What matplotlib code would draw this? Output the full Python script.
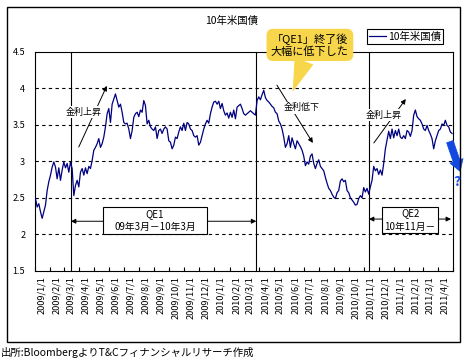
import numpy as np
import pandas as pd
import matplotlib
matplotlib.use('Agg')
import matplotlib.pyplot as plt
import matplotlib.dates as mdates
from matplotlib.patches import Rectangle, FancyArrowPatch

plt.rcParams['font.family'] = ['Noto Sans CJK JP', 'DejaVu Sans']

# 10年米国債 利回り(%)  2009/1 - 2011/4
ust_2009a = [2.49, 2.375, 2.42, 2.31, 2.22, 2.31, 2.40, 2.60, 2.72, 2.81,
             2.92, 2.99, 2.92, 2.76, 2.91, 2.74, 2.88, 2.99, 2.91, 2.97,
             2.85, 2.99, 2.90, 2.53, 2.67, 2.74, 2.65, 2.85, 2.90, 2.81,
             2.91, 2.83, 2.93, 2.90, 3.01, 3.15, 3.19, 3.24, 3.31, 3.19,
             3.24, 3.33, 3.47, 3.65, 3.72, 3.53, 3.78, 3.85, 3.92, 3.83,
             3.74, 3.78, 3.67, 3.53, 3.51, 3.52, 3.44, 3.31, 3.42, 3.60,
             3.65]
ust_2009b = [3.67, 3.61, 3.70, 3.67, 3.83, 3.76, 3.51, 3.56, 3.47, 3.44,
             3.42, 3.47, 3.31, 3.42, 3.44, 3.38, 3.44, 3.47, 3.44, 3.28,
             3.26, 3.17, 3.22, 3.33, 3.31, 3.40, 3.47, 3.42, 3.52, 3.42,
             3.53, 3.51, 3.44, 3.42, 3.35, 3.33, 3.35, 3.22, 3.26, 3.35,
             3.44, 3.51, 3.56, 3.52, 3.65, 3.74, 3.81, 3.82, 3.78, 3.82,
             3.72, 3.79, 3.69, 3.63, 3.66, 3.59, 3.67, 3.60, 3.70, 3.58,
             3.74, 3.76, 3.78, 3.72, 3.65, 3.63]
ust_2010a = [3.65, 3.67, 3.69, 3.67, 3.65, 3.63, 3.83, 3.88, 3.84, 3.91,
             3.97, 3.87, 3.83, 3.81, 3.78, 3.75, 3.73, 3.67, 3.65, 3.55,
             3.51, 3.44, 3.33, 3.19, 3.24, 3.35, 3.19, 3.32, 3.24, 3.17,
             3.28, 3.24, 3.20, 3.15, 3.07, 2.94, 2.99, 2.96, 3.07, 3.10,
             2.97, 2.90, 2.97, 3.02, 2.93, 2.90, 2.87, 2.78, 2.70, 2.63,
             2.60, 2.55, 2.51, 2.49, 2.57, 2.60, 2.73, 2.76, 2.72, 2.74,
             2.60, 2.57, 2.50]
ust_2010b = [2.47, 2.44, 2.40, 2.41, 2.49, 2.53, 2.50, 2.64, 2.58, 2.63,
             2.55, 2.65, 2.74, 2.93, 2.87, 2.90, 2.82, 2.88, 2.81, 2.97,
             3.17, 3.29, 3.41, 3.31, 3.44, 3.32, 3.42, 3.35, 3.44, 3.33,
             3.31, 3.35, 3.31, 3.42, 3.40, 3.34, 3.42, 3.63, 3.70, 3.61,
             3.58, 3.56, 3.51, 3.44, 3.42, 3.49, 3.42, 3.37, 3.31, 3.17,
             3.28, 3.35, 3.42, 3.44, 3.51, 3.49, 3.56, 3.49, 3.47, 3.40,
             3.38]

values = ust_2009a + ust_2009b + ust_2010a + ust_2010b
dates = pd.date_range('2009-01-02', '2011-04-29', periods=len(values))

qe_lines = ['2009-03-15', '2010-03-27', '2010-11-11']
months = pd.date_range('2009-01-01', '2011-05-01', freq='MS')
label_months = months[:-1]
ylabels = ['1.5', '2', '2.5', '3', '3.5', '4', '4.5']

def d(s):
    return mdates.date2num(pd.Timestamp(s))

W, H = 468, 362
fig = plt.figure(figsize=(W / 100, H / 100), dpi=100)
ax = fig.add_axes([35 / W, 1 - 271 / H, 418 / W, 219.5 / H])

line, = ax.plot(dates, values, color='#000080', lw=0.9, zorder=3, label='10年米国債')
ax.set_xlim(d('2009-01-01'), d('2011-05-01'))
ax.set_ylim(1.5, 4.5)
ax.set_yticks(np.arange(1.5, 4.51, 0.5))
ax.set_yticklabels(ylabels, fontsize=6.5)
ax.tick_params(axis='y', length=0, pad=7)
for v in [2, 2.5, 3, 3.5, 4]:
    ax.axhline(v, color='black', lw=0.8, ls=(0, (3, 3)), zorder=1)

ax.set_xticks([d(m) for m in months])
ax.set_xticklabels([])
ax.set_xticks([d(m) + 13 for m in label_months], minor=True)
ax.set_xticklabels([f'{m.year}/{m.month}/1' for m in label_months], minor=True,
                   rotation=90, fontsize=6.6)
ax.tick_params(axis='x', which='major', direction='in', length=3, width=0.8)
ax.tick_params(axis='x', which='minor', length=0, pad=4)
for s in ax.spines.values():
    s.set_linewidth(0.8)

for q in qe_lines:
    ax.axvline(d(q), color='black', lw=0.8, zorder=2)

arrow_kw = dict(arrowstyle='-|>', color='black', lw=0.7, mutation_scale=7,
                shrinkA=0, shrinkB=0)

def note(text, pos, start, end):
    ax.annotate('', xy=end, xytext=start, arrowprops=arrow_kw, zorder=4)
    ax.text(pos[0], pos[1], text, ha='center', va='center', fontsize=6.5, zorder=5,
            bbox=dict(fc='white', ec='none', pad=1))

note('金利上昇', (d('2009-04-10'), 3.67), (d('2009-03-31'), 3.195), (d('2009-05-27'), 4.03))
note('金利低下', (d('2010-06-28'), 3.73), (d('2010-05-08'), 4.04), (d('2010-07-20'), 3.25))
note('金利上昇', (d('2010-12-11'), 3.63), (d('2010-11-21'), 3.25), (d('2011-01-25'), 3.85))

# QE periods
both_kw = dict(arrow_kw, arrowstyle='<|-|>')
ax.annotate('', xy=(d('2010-03-27'), 2.18), xytext=(d('2009-03-15'), 2.18),
            arrowprops=both_kw, zorder=4)
ax.add_patch(Rectangle((d('2009-05-19'), 2.007), d('2009-12-16') - d('2009-05-19'), 0.369,
                       fc='white', ec='black', lw=0.8, zorder=5))
ax.text(d('2009-09-02'), 2.19, 'QE1\n09年3月－10年3月', ha='center', va='center',
        fontsize=7, linespacing=1.45, zorder=6)

ax.annotate('', xy=(d('2011-04-27'), 2.21), xytext=(d('2010-11-11'), 2.21),
            arrowprops=both_kw, zorder=4)
ax.add_patch(Rectangle((d('2010-12-07'), 2.02), d('2011-04-01') - d('2010-12-07'), 0.356,
                       fc='white', ec='black', lw=0.8, zorder=5))
ax.text(d('2011-02-03'), 2.20, 'QE2\n10年11月－', ha='center', va='center',
        fontsize=7, linespacing=1.45, zorder=6)

# callout
yellow = '#F7D64B'
ax.annotate('「QE1」終了後\n大幅に低下した', xy=(d('2010-06-09'), 3.95),
            xytext=(d('2010-07-14'), 4.59), ha='center', va='center', fontsize=8,
            linespacing=1.15, zorder=7, annotation_clip=False,
            bbox=dict(boxstyle='round,pad=0.4,rounding_size=0.6', fc=yellow, ec='none'),
            arrowprops=dict(arrowstyle='wedge,tail_width=1.8,shrink_factor=0.5',
                            fc=yellow, ec='none', shrinkA=0, shrinkB=0))

# blue arrow + ?
blue = '#1048E0'
fig.add_artist(FancyArrowPatch((449 / W, 1 - 139 / H), (461 / W, 1 - 174 / H),
                               transform=fig.transFigure, mutation_scale=10,
                               arrowstyle='simple,head_width=1.0,head_length=0.8,tail_width=0.5',
                               fc=blue, ec=blue, lw=0.5))
fig.text(457 / W, 1 - 182 / H, '?', color=blue, fontsize=10, fontweight='bold',
         ha='center', va='center')

fig.text(232 / W, 1 - 20.5 / H, '10年米国債', ha='center', va='center', fontsize=7.5)
leg = fig.legend(handles=[line], loc='center', bbox_to_anchor=(405 / W, 1 - 36.5 / H),
                 fontsize=7.5, fancybox=False, edgecolor='black', framealpha=1,
                 borderpad=0.25, handlelength=1.6, handletextpad=0.2)
leg.get_frame().set_linewidth(0.8)

fig.add_artist(Rectangle((7 / W, 1 - 342 / H), 453 / W, 335 / H, transform=fig.transFigure,
                         fill=False, ec='black', lw=1))
fig.text(1 / W, 1 - 352 / H, '出所:BloombergよりT&Cフィナンシャルリサーチ作成',
         ha='left', va='center', fontsize=7.5)

fig.savefig('out.png', dpi=100)
